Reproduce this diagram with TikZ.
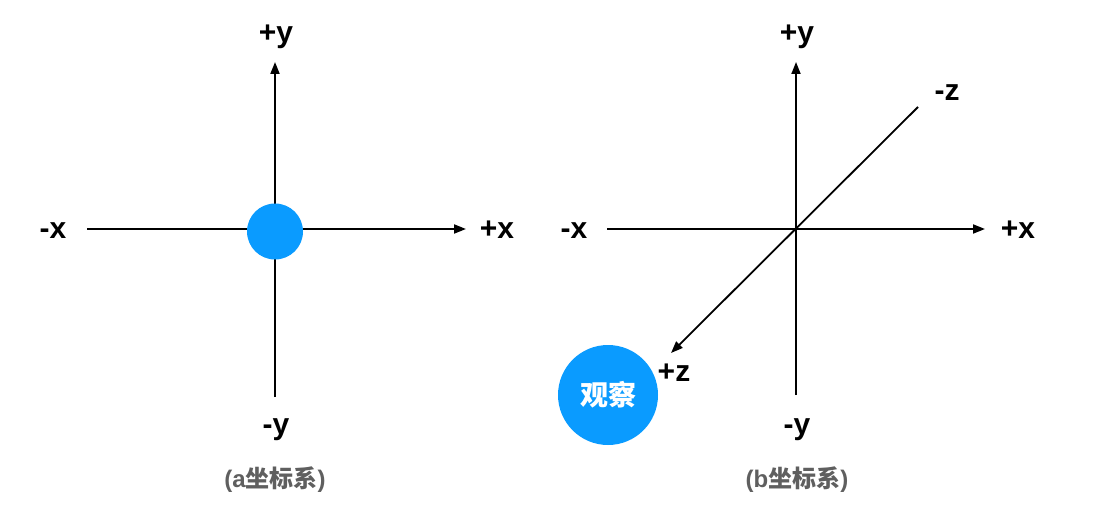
\documentclass[tikz,border=0pt]{standalone}
\usepackage{fontspec}
\setmainfont{Liberation Sans}
\newfontfamily\cjk{Noto Sans CJK SC}
\usetikzlibrary{arrows.meta}
\definecolor{dotblue}{HTML}{0A9BFF}
\definecolor{capgray}{HTML}{5F5F5F}
\tikzset{
  axis/.style={line width=1.8pt, -{Triangle[length=12pt,width=9pt]}},
  axlabel/.style={font=\fontsize{30}{30}\selectfont\bfseries, inner sep=0pt},
  caption/.style={font=\fontsize{24}{24}\selectfont\bfseries, text=capgray, inner sep=0pt},
  ball/.style={circle, fill=dotblue, inner sep=0pt},
}
\begin{document}
\begin{tikzpicture}[x=1pt,y=-1pt]
\useasboundingbox (0,0) rectangle (1113,513);
% ---- left system
\coordinate (aL) at (87,229);
\coordinate (aR) at (466,229);
\coordinate (aB) at (275,397);
\coordinate (aT) at (275,62);
\draw[axis] (aL) -- (aR);
\draw[axis] (aB) -- (aT);
\node[ball, minimum size=56pt] (aball) at (275,231.5) {};
\node[axlabel] (amx) at (53,231) {-x};
\node[axlabel] (apx) at (497,230) {+x};
\node[axlabel] (apy) at (276,37) {+y};
\node[axlabel] (amy) at (276,430) {-y};
\node[caption] (acap) at (275,480) {(a{\cjk 坐标系})};
% ---- right system
\coordinate (bL) at (607,229);
\coordinate (bR) at (985,229);
\coordinate (bB) at (796,395);
\coordinate (bT) at (796,62);
\coordinate (bZf) at (918,107);
\coordinate (bZn) at (671,353);
\draw[axis] (bL) -- (bR);
\draw[axis] (bB) -- (bT);
\draw[axis] (bZf) -- (bZn);
\node[axlabel] (bmx) at (574,231) {-x};
\node[axlabel] (bpx) at (1018,230) {+x};
\node[axlabel] (bpy) at (797,37) {+y};
\node[axlabel] (bmy) at (797,430) {-y};
\node[axlabel] (bmz) at (947,93) {-z};
\node[axlabel] (bpz) at (674,373) {+z};
\node[ball, minimum size=100pt, text=white, font=\fontsize{28}{28}\selectfont\bfseries\cjk] (eye) at (608,395) {观察};
\node[caption] (bcap) at (797,480) {(b{\cjk 坐标系})};
\end{tikzpicture}
\end{document}
